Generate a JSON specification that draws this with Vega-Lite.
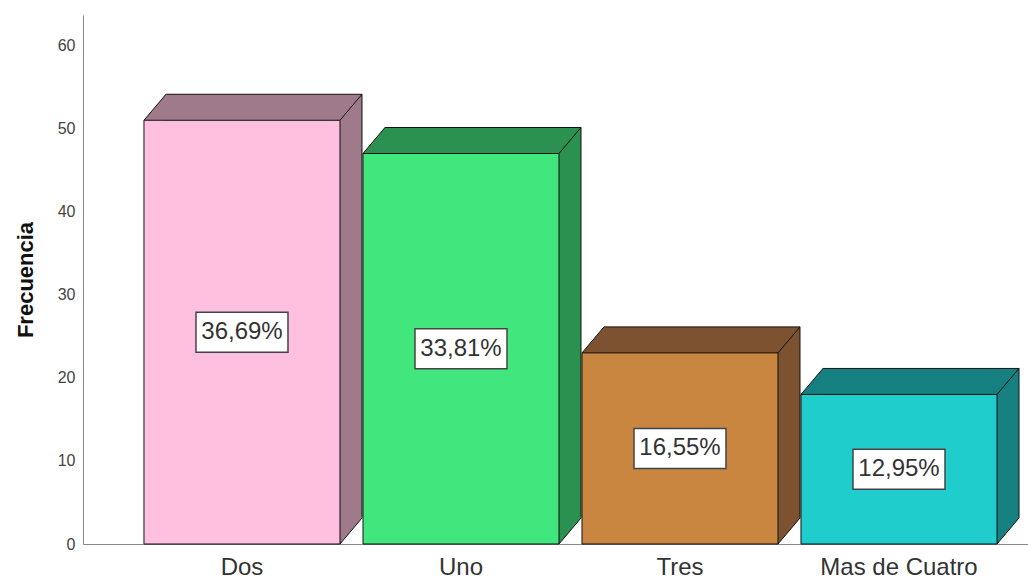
{
  "$schema": "https://vega.github.io/schema/vega-lite/v6.json",
  "width": 945,
  "height": 529,
  "autosize": {"type": "none"},
  "padding": {"left": 83, "top": 15, "right": 0, "bottom": 34},
  "background": "white",
  "config": {
    "view": {"stroke": null},
    "font": "Liberation Sans",
    "locale": {"number": {"decimal": ",", "thousands": ".", "grouping": [3], "currency": ["", " €"]}}
  },
  "data": {
    "values": [
      {"cantidad": "Dos", "frecuencia": 51, "porcentaje": 0.3669},
      {"cantidad": "Uno", "frecuencia": 47, "porcentaje": 0.3381},
      {"cantidad": "Tres", "frecuencia": 23, "porcentaje": 0.1655},
      {"cantidad": "Mas de Cuatro", "frecuencia": 18, "porcentaje": 0.1295}
    ]
  },
  "encoding": {
    "x": {
      "field": "cantidad",
      "type": "nominal",
      "scale": {"domain": ["Dos", "Uno", "Tres", "Mas de Cuatro"], "paddingInner": 0.105, "paddingOuter": 0.21, "align": 0.663, "round": false},
      "axis": {"title": null, "labelFontSize": 24, "labelColor": "#333", "labelFont": "Liberation Sans", "ticks": false, "labelPadding": 11, "domainColor": "#888", "labelAngle": 0}
    }
  },
  "layer": [
    {
      "encoding": {
        "y": {
          "field": "frecuencia",
          "type": "quantitative",
          "scale": {"domain": [0, 63.67], "nice": false},
          "axis": {"title": "Frecuencia", "titleFontSize": 22, "titleFont": "Liberation Sans", "titleFontWeight": "bold", "titleColor": "#111", "values": [0, 10, 20, 30, 40, 50, 60], "labelFontSize": 16, "labelColor": "#444", "ticks": false, "labelPadding": 8, "domainColor": "#888", "grid": false, "titlePadding": 20}
        }
      },
      "layer": [
        {
          "mark": {"type": "bar", "xOffset": 22, "yOffset": -26, "stroke": "#111", "strokeWidth": 1},
          "encoding": {
            "fill": {"field": "cantidad", "type": "nominal", "scale": {"domain": ["Dos", "Uno", "Tres", "Mas de Cuatro"], "range": ["#9E7A8A", "#2A9150", "#7D5230", "#168080"]}, "legend": null}
          }
        },
        {
          "mark": {"type": "point", "shape": "M-0.98,0 L-0.76,-0.26 L-0.75,-0.255 L-0.75,0 Z", "size": 40000, "filled": true, "opacity": 1, "strokeWidth": 0},
          "encoding": {
            "fill": {"field": "cantidad", "type": "nominal", "scale": {"domain": ["Dos", "Uno", "Tres", "Mas de Cuatro"], "range": ["#9E7A8A", "#2A9150", "#7D5230", "#168080"]}, "legend": null}
          }
        },
        {
          "mark": {"type": "point", "shape": "M0.98,0 L0.98,-0.275 L1.197,-0.275 L1.197,-0.262 L1.2,-0.26 Z", "size": 40000, "filled": true, "opacity": 1, "strokeWidth": 0},
          "encoding": {
            "y": {"datum": 0, "type": "quantitative"},
            "fill": {"field": "cantidad", "type": "nominal", "scale": {"domain": ["Dos", "Uno", "Tres", "Mas de Cuatro"], "range": ["#9E7A8A", "#2A9150", "#7D5230", "#168080"]}, "legend": null}
          }
        },
        {
          "mark": {"type": "bar", "stroke": "#111", "strokeWidth": 1},
          "encoding": {
            "fill": {"field": "cantidad", "type": "nominal", "scale": {"domain": ["Dos", "Uno", "Tres", "Mas de Cuatro"], "range": ["#FFC0E0", "#41E77C", "#C98640", "#1FCDCD"]}, "legend": null}
          }
        },
        {
          "mark": {"type": "point", "shape": "M-0.98,0 L-0.76,-0.26 M0.98,0 L1.2,-0.26", "size": 40000, "filled": false, "stroke": "#111", "strokeWidth": 1, "opacity": 1},
          "encoding": {}
        },
        {
          "mark": {"type": "point", "shape": "M0.98,0 L1.2,-0.26", "size": 40000, "filled": false, "stroke": "#111", "strokeWidth": 1, "opacity": 1},
          "encoding": {"y": {"datum": 0, "type": "quantitative"}}
        }
      ],
      "resolve": {"scale": {"fill": "independent"}}
    },
    {
      "encoding": {
        "y": {"field": "frecuencia", "type": "quantitative", "scale": {"domain": [0, 127.34], "nice": false}, "axis": null}
      },
      "layer": [
        {
          "mark": {"type": "point", "shape": "M-0.46,-0.2 L0.46,-0.2 L0.46,0.2 L-0.46,0.2 Z", "size": 40000, "filled": true, "fill": "white", "stroke": "#444", "strokeWidth": 1.5, "opacity": 1}
        },
        {
          "mark": {"type": "text", "fontSize": 24, "font": "Liberation Sans", "color": "#333", "baseline": "middle", "align": "center"},
          "encoding": {"text": {"field": "porcentaje", "type": "quantitative", "format": ".2%"}}
        }
      ]
    }
  ],
  "resolve": {"scale": {"y": "independent"}}
}
